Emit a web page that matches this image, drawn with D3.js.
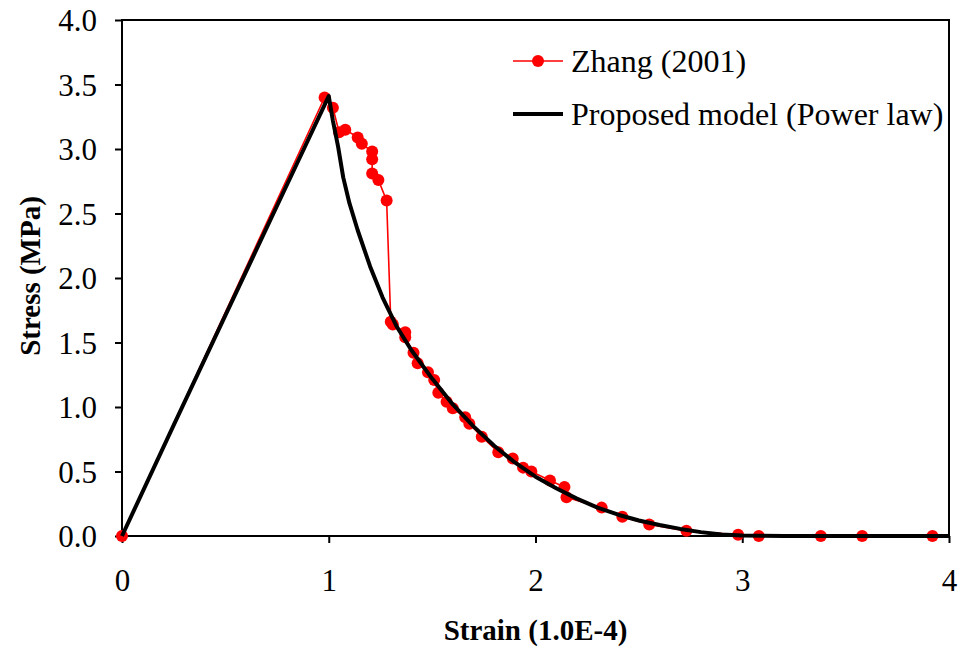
<!DOCTYPE html>
<html>
<head>
<meta charset="utf-8">
<script src="https://cdn.jsdelivr.net/npm/d3@7"></script>
<style>
  body { margin: 0; background: #fff; }
  svg text { font-family: "Liberation Serif", "Times New Roman", serif !important; }
</style>
</head>
<body>
<svg id="chart" width="962" height="656"></svg>
<script>
// Zhang (2001) test data, strain in 1.0E-4, stress in MPa
var zhangStrain = [0, 0.98, 1.02, 1.05, 1.08, 1.14, 1.16, 1.21, 1.21, 1.21, 1.24, 1.28,
  1.30, 1.31, 1.37, 1.37, 1.41, 1.43, 1.48, 1.51, 1.53, 1.57, 1.60, 1.66, 1.68, 1.74,
  1.82, 1.89, 1.94, 1.98, 2.07, 2.14, 2.15, 2.32, 2.42, 2.55, 2.73, 2.98, 3.08, 3.38, 3.58, 3.92];
var zhangStress = [0, 3.40, 3.32, 3.13, 3.15, 3.09, 3.04, 2.98, 2.92, 2.81, 2.76, 2.60,
  1.66, 1.64, 1.58, 1.54, 1.42, 1.34, 1.27, 1.21, 1.11, 1.04, 0.99, 0.92, 0.87, 0.77,
  0.65, 0.60, 0.53, 0.50, 0.43, 0.38, 0.30, 0.22, 0.15, 0.09, 0.04, 0.01, 0.00, 0.00, 0.00, 0.00];

// proposed model (power law)
var modelStrain = [0, 0.25, 0.5, 0.75, 1.0, 1.02, 1.045, 1.07, 1.10, 1.14, 1.20, 1.26, 1.33,
  1.40, 1.50, 1.60, 1.70, 1.80, 1.90, 2.00, 2.10, 2.20, 2.30, 2.40, 2.50, 2.60, 2.70,
  2.80, 2.90, 3.00, 3.2, 3.6, 4.0];
var modelStress = [0, 0.86, 1.71, 2.56, 3.41, 3.22, 3.02, 2.78, 2.58, 2.37, 2.09, 1.85, 1.62,
  1.44, 1.22, 1.02, 0.85, 0.70, 0.57, 0.46, 0.37, 0.29, 0.22, 0.165, 0.12, 0.085, 0.055,
  0.03, 0.012, 0.003, 0, 0, 0];

var xTicks = [0, 1, 2, 3, 4];
var yTicks = [0, 0.5, 1, 1.5, 2, 2.5, 3, 3.5, 4];

var zhang = zhangStrain.map(function(d, i) { return {x: d, y: zhangStress[i]}; });
var model = modelStrain.map(function(d, i) { return {x: d, y: modelStress[i]}; });

var serif = '"Liberation Serif", "Times New Roman", serif';

var margin = {top: 20, right: 13, bottom: 120, left: 122},
    width = 962 - margin.left - margin.right,
    height = 656 - margin.top - margin.bottom;

var svg = d3.select("#chart")
  .append("g")
    .attr("transform", "translate(" + margin.left + "," + margin.top + ")");

var x = d3.scaleLinear().domain([0, 4]).range([0, width]);
var y = d3.scaleLinear().domain([0, 4]).range([height, 0]);

// Y axis
var yAxis = svg.append("g")
    .attr("font-family", serif)
    .call(d3.axisLeft(y).tickValues(yTicks).tickSize(7).tickPadding(18)
      .tickFormat(d3.format(".1f")));
yAxis.select(".domain").remove();
yAxis.selectAll("line").attr("stroke-width", 2);
yAxis.selectAll("text").style("font-family", serif).style("font-size", "31px").attr("dy", "0.34em");

// X axis
var xAxis = svg.append("g")
    .attr("font-family", serif)
    .attr("transform", "translate(0," + height + ")")
    .call(d3.axisBottom(x).tickValues(xTicks).tickSize(7).tickPadding(26)
      .tickFormat(d3.format("d")));
xAxis.select(".domain").remove();
xAxis.selectAll("line").attr("stroke-width", 2);
xAxis.selectAll("text").style("font-family", serif).style("font-size", "31px");

// plot frame
svg.append("rect")
    .attr("width", width)
    .attr("height", height)
    .attr("fill", "none")
    .attr("stroke", "#000")
    .attr("stroke-width", 2);

var line = d3.line()
    .x(function(d) { return x(d.x); })
    .y(function(d) { return y(d.y); });

// Zhang data
svg.append("path")
    .datum(zhang)
    .attr("fill", "none")
    .attr("stroke", "#ff0000")
    .attr("stroke-width", 1.6)
    .attr("d", line);

svg.selectAll(".dot")
    .data(zhang)
  .enter().append("circle")
    .attr("class", "dot")
    .attr("cx", function(d) { return x(d.x); })
    .attr("cy", function(d) { return y(d.y); })
    .attr("r", 6)
    .attr("fill", "#ff0000");

// model curve
svg.append("path")
    .datum(model)
    .attr("fill", "none")
    .attr("stroke", "#000")
    .attr("stroke-width", 4)
    .attr("stroke-linejoin", "round")
    .attr("d", line);

// legend
var legend = svg.append("g").attr("transform", "translate(391,41)");
legend.append("line")
    .attr("x1", 0).attr("x2", 50).attr("y1", 0).attr("y2", 0)
    .attr("stroke", "#ff0000").attr("stroke-width", 1.6);
legend.append("circle")
    .attr("cx", 25).attr("cy", 0).attr("r", 6).attr("fill", "#ff0000");
legend.append("text")
    .attr("x", 58).attr("y", 11)
    .style("font-family", serif)
    .style("font-size", "32px")
    .text("Zhang (2001)");
legend.append("line")
    .attr("x1", 0).attr("x2", 50).attr("y1", 53).attr("y2", 53)
    .attr("stroke", "#000").attr("stroke-width", 4);
legend.append("text")
    .attr("x", 58).attr("y", 64)
    .style("font-family", serif)
    .style("font-size", "32px")
    .text("Proposed model (Power law)");

// axis titles
svg.append("text")
    .attr("x", width / 2)
    .attr("y", height + 104)
    .style("text-anchor", "middle")
    .style("font-family", serif)
    .style("font-size", "29px")
    .style("font-weight", "bold")
    .text("Strain (1.0E-4)");

svg.append("text")
    .attr("transform", "rotate(-90)")
    .attr("x", -(height / 2) + 2)
    .attr("y", -margin.left + 40)
    .style("text-anchor", "middle")
    .style("font-family", serif)
    .style("font-size", "29px")
    .style("font-weight", "bold")
    .text("Stress (MPa)");
</script>
</body>
</html>
